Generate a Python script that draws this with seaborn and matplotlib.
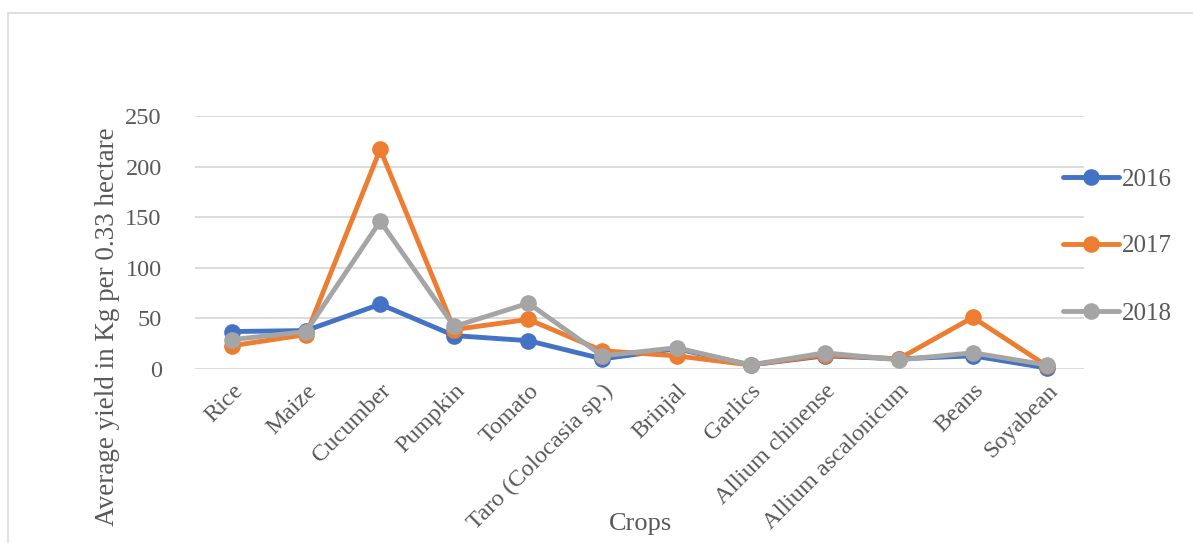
import numpy as np
import pandas as pd
import matplotlib
matplotlib.use("Agg")
import matplotlib.pyplot as plt
import seaborn as sns
from matplotlib.lines import Line2D

crops = ["Rice", "Maize", "Cucumber", "Pumpkin", "Tomato", "Taro (Colocasia sp.)",
         "Brinjal", "Garlics", "Allium chinense", "Allium ascalonicum", "Beans", "Soyabean"]
y2016 = [37, 38, 64, 33, 28, 10, 20, 4, 13, 10, 13, 1]
y2017 = [23, 34, 217, 39, 49, 18, 13, 4, 14, 10, 51, 3]
y2018 = [29, 37, 146, 42, 65, 13, 21, 4, 16, 9, 16, 4]
years = ["2016", "2017", "2018"]
colors = ["#4472C4", "#ED7D31", "#A5A5A5"]

df = pd.DataFrame({"Crop": crops, "2016": y2016, "2017": y2017, "2018": y2018})
long = df.melt(id_vars="Crop", var_name="Year", value_name="Yield")
long["x"] = long["Crop"].map({c: i for i, c in enumerate(crops)})

sns.set_style("white")
plt.rcParams["font.family"] = ["Liberation Serif", "DejaVu Serif"]
txt = "#595959"

fig = plt.figure(figsize=(11.93, 5.43), dpi=100)
ax = fig.add_axes([195 / 1193, 1 - 369 / 543, (1084 - 195) / 1193, (369 - 116) / 543])

sns.lineplot(data=long, x="x", y="Yield", hue="Year", hue_order=years,
             palette=colors, marker="o", markersize=12, markeredgewidth=0,
             linewidth=3.5, ax=ax, legend=False, clip_on=False, zorder=3)

ax.set_xlim(-0.5, len(crops) - 0.5)
ax.set_ylim(0, 250)
ax.set_yticks(range(0, 251, 50))
ax.set_xticks(range(len(crops)))
ax.set_xticklabels(crops, rotation=45, ha="right", rotation_mode="anchor")
ax.tick_params(axis="both", length=0, labelsize=17.5, colors=txt)
ax.tick_params(axis="y", pad=24)
ax.tick_params(axis="x", pad=8)
ax.yaxis.grid(True, color="#D9D9D9", linewidth=1.3)
ax.set_axisbelow(True)
for s in ax.spines.values():
    s.set_visible(False)

ax.set_xlabel("Crops", fontsize=19, color=txt)
ax.set_ylabel("Average yield in Kg per 0.33 hectare", fontsize=19.5, color=txt)
ax.xaxis.set_label_coords((640 - 195) / 889, -(524 - 369) / 253)
ax.xaxis.label.set_va("center")
ax.yaxis.set_label_coords((108 - 195) / 889, -(327 - 369) / 253)
ax.yaxis.label.set_va("center")

handles = [Line2D([0], [0], color=c, linewidth=3.5, marker="o", markersize=12,
                  markeredgewidth=0) for c in colors]
fig.legend(handles, years, loc="upper left", bbox_to_anchor=(1063 / 1193, 1 - 168 / 543),
           frameon=False, fontsize=18, labelcolor=txt, labelspacing=1.78,
           handlelength=2.25, handletextpad=0.1, borderaxespad=0, borderpad=0)

# outer chart border (top and left visible)
fig.add_artist(Line2D([8 / 1193, 8 / 1193], [0, 1 - 13 / 543], color="#D9D9D9",
                      linewidth=1.2, transform=fig.transFigure))
fig.add_artist(Line2D([8 / 1193, 1], [1 - 13 / 543, 1 - 13 / 543], color="#D9D9D9",
                      linewidth=1.2, transform=fig.transFigure))

fig.savefig("out.png", dpi=100)
